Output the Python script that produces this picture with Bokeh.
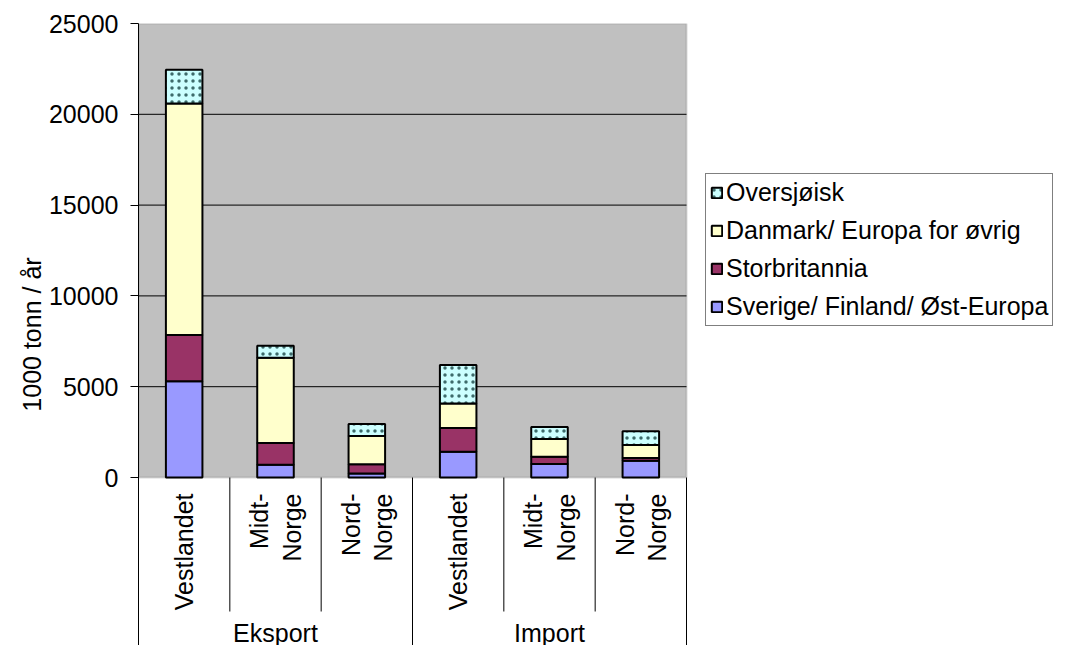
import numpy as np
from bokeh.plotting import figure
from bokeh.models import (ColumnDataSource, Range1d, FixedTicker, BoxAnnotation,
                          Legend, LegendItem)
from bokeh.core.properties import value
from bokeh.embed import file_html
from bokeh.resources import INLINE

# ---------------- data ----------------
groups = ["Eksport", "Import"]
categories = ["Vestlandet", "Midt-\nNorge", "Nord-\nNorge",
              "Vestlandet", "Midt-\nNorge", "Nord-\nNorge"]
series = ["Sverige/ Finland/ Øst-Europa", "Storbritannia",
          "Danmark/ Europa for øvrig", "Oversjøisk"]
sverige = [5300, 700, 220, 1415, 750, 920]
storbritannia = [2550, 1200, 515, 1305, 390, 150]
danmark = [12750, 4700, 1545, 1360, 975, 720]
oversjoisk = [1850, 650, 670, 2120, 660, 750]
colors = ["#9999FF", "#993366", "#FFFFCC", "#CCFFFF"]
y_ticks = [0, 5000, 10000, 15000, 20000, 25000]
y_label = "1000 tonn / år"

# ---------------- layout constants ----------------
W, H = 1056, 645
LEFT, TOP = 138, 23
frame_w = W - LEFT
frame_h = H - TOP
plot_w = 548                    # pixel width of the grey plot area
bar_h = 454                     # pixel height of the bar area
ymax = y_ticks[-1]
ymin = -ymax * (frame_h - bar_h) / bar_h
FONT = "Liberation Sans"
FS = "25px"

n = len(categories)
xs = np.arange(n) + 0.5
xmax = n * frame_w / plot_w
source = ColumnDataSource(dict(x=xs, s0=sverige, s1=storbritannia,
                               s2=danmark, s3=oversjoisk))

p = figure(width=W, height=H, output_backend="svg", toolbar_location=None,
           x_range=Range1d(0, xmax), y_range=Range1d(ymin, ymax),
           x_axis_location=None, min_border_left=LEFT, min_border_right=0,
           min_border_top=TOP, min_border_bottom=0)
p.extra_y_ranges = {"px": Range1d(start=frame_h, end=0)}
p.outline_line_color = None
p.background_fill_color = "white"
p.border_fill_color = "white"
p.xgrid.visible = False
p.ygrid.visible = False

# grey plot area with grey border
p.add_layout(BoxAnnotation(left=0, right=n, bottom=0, top=ymax,
                           fill_color="#C0C0C0", fill_alpha=1.0,
                           line_color="#808080", line_width=2, level="image"))

# horizontal grid lines limited to the plot area
grid_y = y_ticks[1:-1]
p.segment(x0=[0] * len(grid_y), x1=[n] * len(grid_y), y0=grid_y, y1=grid_y,
          line_color="black", line_width=1)

# y axis
ax = p.yaxis[0]
ax.ticker = FixedTicker(ticks=y_ticks)
ax.axis_label = y_label
ax.axis_label_text_font = FONT
ax.axis_label_text_font_size = FS
ax.axis_label_text_font_style = "normal"
ax.axis_label_text_color = "black"
ax.axis_label_standoff = 0
ax.major_label_text_font = FONT
ax.major_label_text_font_size = FS
ax.major_label_text_color = "black"
ax.major_label_standoff = 12
ax.major_tick_in = 0
ax.major_tick_out = 8
ax.minor_tick_out = 0
ax.minor_tick_in = 0
ax.axis_line_color = "black"
ax.major_tick_line_color = "black"

# stacked bars
renderers = p.vbar_stack(["s0", "s1", "s2", "s3"], x="x", width=0.4,
                         source=source, fill_color=colors, line_color="black",
                         line_width=2,
                         hatch_pattern=[" ", " ", " ", "dot"],
                         hatch_color="#3d6b6b", hatch_scale=7, hatch_weight=1.5)

# category separators and labels below the axis
per_group = n // len(groups)
inner = [i for i in range(1, n) if i % per_group != 0]
outer = [i for i in range(0, n + 1) if i % per_group == 0]
p.segment(x0=inner, x1=inner, y0=[bar_h] * len(inner), y1=[bar_h + 134] * len(inner),
          y_range_name="px", line_color="black", line_width=1)
p.segment(x0=outer, x1=outer, y0=[bar_h] * len(outer), y1=[frame_h] * len(outer),
          y_range_name="px", line_color="black", line_width=1)
p.text(x=xs, y=[bar_h + 16] * n, text=categories, y_range_name="px",
       angle=np.pi / 2, text_align="right", text_baseline="middle",
       text_font=value(FONT), text_font_size=FS, text_line_height=1.15,
       text_color="black")
gx = [(g + 0.5) * per_group for g in range(len(groups))]
p.text(x=gx, y=[frame_h - 13] * len(groups), text=groups, y_range_name="px",
       text_align="center", text_baseline="middle",
       text_font=value(FONT), text_font_size=FS, text_color="black")

# legend (reverse order, top = last stacked)
items = [LegendItem(label=series[i], renderers=[renderers[i]]) for i in reversed(range(4))]
legend = Legend(items=items, location=(567, 319), orientation="vertical",
                border_line_color="black", border_line_width=1,
                background_fill_color="white", background_fill_alpha=1.0,
                label_text_font=FONT, label_text_font_size=FS,
                label_text_color="black",
                glyph_width=13, glyph_height=13, label_standoff=3,
                spacing=9, padding=4, margin=0)
p.add_layout(legend, "center")

open("out.html", "w").write(file_html(p, INLINE))
